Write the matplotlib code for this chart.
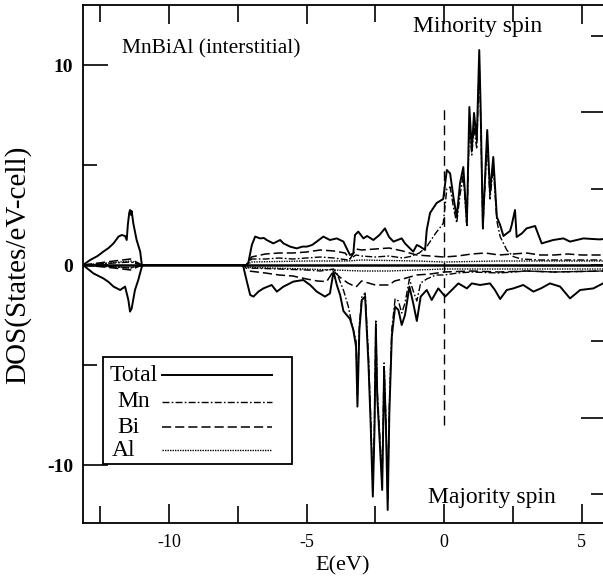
import matplotlib
matplotlib.use("Agg")
import matplotlib.pyplot as plt
from matplotlib.patches import Rectangle

# ── Data ────────────────────────────────────────────────────
e_tot_up = [-13.13, -12.87, -12.6, -12.39, -12.2, -12.02, -11.84, -11.72, -11.6, -11.54,
            -11.5, -11.45, -11.42, -11.38, -11.36, -11.3, -11.18, -11.05, -10.99, -7.2,
            -7.12, -6.99, -6.87, -6.69, -6.55, -6.45, -6.21, -5.96, -5.84, -5.6,
            -5.36, -5.15, -4.99, -4.8, -4.63, -4.39, -4.15, -3.9, -3.66, -3.54,
            -3.42, -3.3, -3.24, -3.12, -2.93, -2.8, -2.57, -2.35, -2.15, -2.0,
            -1.84, -1.54, -1.42, -1.24, -1.12, -0.99, -0.87, -0.69, -0.63, -0.51,
            -0.27, -0.03, 0.1, 0.22, 0.34, 0.46, 0.58, 0.7, 0.83, 0.92,
            1.01, 1.09, 1.19, 1.28, 1.33, 1.41, 1.57, 1.67, 1.79, 1.92,
            2.04, 2.16, 2.28, 2.4, 2.46, 2.58, 2.64, 2.83, 3.0, 3.31,
            3.55, 3.97, 4.34, 4.58, 5.07, 5.4, 5.67, 5.78]
dos_tot_up = [0.0, 0.25, 0.45, 0.67, 0.85, 1.08, 1.42, 1.5, 1.45, 1.25,
              2.0, 2.6, 2.75, 2.5, 2.7, 2.08, 1.25, 0.67, 0.0, 0.0,
              0.1, 1.0, 1.42, 1.33, 1.35, 1.25, 1.08, 1.25, 1.08, 0.92,
              0.83, 0.92, 0.92, 1.0, 1.17, 1.42, 1.25, 1.33, 1.17, 0.83,
              0.5, 0.58, 1.5, 1.67, 1.33, 1.45, 1.25, 1.5, 1.83, 1.4,
              1.17, 1.33, 1.08, 0.83, 0.67, 1.0, 0.92, 0.75, 1.75, 2.6,
              3.1, 3.3, 4.75, 4.58, 3.4, 2.4, 4.08, 4.9, 2.08, 7.9,
              5.75, 7.6, 6.25, 10.75, 7.9, 1.9, 6.75, 3.6, 5.4, 2.4,
              2.0, 1.45, 1.58, 1.7, 2.0, 2.75, 1.4, 1.58, 1.83, 1.95,
              1.08, 1.25, 1.33, 1.17, 1.33, 1.3, 1.28, 1.3]

e_tot_dn = [-13.13, -12.75, -12.39, -12.2, -12.02, -11.78, -11.6, -11.48, -11.42, -11.36,
            -11.24, -11.12, -10.99, -10.95, -7.35, -7.3, -7.17, -7.05, -6.93, -6.75,
            -6.57, -6.27, -6.08, -5.84, -5.48, -5.12, -4.87, -4.63, -4.33, -4.15,
            -4.02, -3.9, -3.78, -3.66, -3.42, -3.3, -3.2, -3.15, -3.08, -2.99,
            -2.87, -2.75, -2.67, -2.59, -2.53, -2.48, -2.43, -2.33, -2.25, -2.18,
            -2.11, -2.05, -1.99, -1.9, -1.78, -1.66, -1.54, -1.42, -1.26, -1.12,
            -0.99, -0.85, -0.63, -0.45, -0.21, 0.04, 0.34, 0.52, 0.83, 1.01,
            1.31, 1.67, 1.85, 2.04, 2.28, 2.52, 2.88, 3.25, 3.55, 3.85,
            4.22, 4.58, 4.95, 5.43, 5.78]
dos_tot_dn = [0.0, -0.42, -0.67, -0.85, -1.08, -1.25, -1.08, -1.75, -2.33, -2.17,
              -1.25, -0.75, -0.08, 0.0, 0.0, -0.08, -0.83, -1.5, -1.58, -1.33,
              -1.17, -1.0, -1.33, -1.08, -0.83, -0.75, -1.0, -1.33, -1.58, -1.42,
              -0.33, -1.0, -1.5, -2.3, -2.7, -3.25, -4.08, -7.08, -3.25, -1.75,
              -1.58, -4.92, -7.92, -11.58, -8.25, -3.08, -6.58, -9.08, -11.25, -5.25,
              -8.25, -12.25, -7.42, -3.58, -2.08, -2.25, -3.0, -2.5, -1.08, -1.92,
              -2.8, -1.58, -1.25, -1.75, -1.17, -1.58, -1.17, -0.92, -1.17, -0.92,
              -1.0, -0.92, -1.25, -1.7, -1.25, -1.17, -1.0, -1.33, -1.15, -0.92,
              -1.08, -1.67, -1.25, -1.17, -0.92]

e_mn_up = [-13.13, -12.0, -11.4, -10.99, -7.2, -7.0, -6.5, -6.0, -5.5, -5.0,
           -4.5, -4.0, -3.5, -3.2, -3.0, -2.5, -2.0, -1.5, -1.24, -0.9,
           -0.63, -0.3, -0.03, 0.1, 0.22, 0.34, 0.46, 0.58, 0.7, 0.83,
           0.92, 1.01, 1.09, 1.19, 1.28, 1.33, 1.41, 1.57, 1.67, 1.79,
           1.92, 2.04, 2.28, 2.52, 2.8, 3.5, 4.5, 5.78]
dos_mn_up = [0.0, 0.1, 0.15, 0.0, 0.0, 0.3, 0.3, 0.35, 0.3, 0.35,
             0.4, 0.35, 0.25, 0.5, 0.45, 0.4, 0.45, 0.35, 0.42, 0.6,
             0.92, 1.6, 2.08, 3.8, 3.9, 2.9, 2.1, 3.5, 4.5, 1.9,
             7.0, 5.5, 6.9, 5.8, 10.2, 7.4, 1.8, 6.2, 3.3, 4.9,
             2.2, 1.42, 0.75, 0.42, 0.3, 0.25, 0.25, 0.25]

e_bi_up = [-13.13, -12.0, -11.4, -10.99, -7.2, -7.0, -6.5, -6.0, -5.5, -5.0,
           -4.5, -4.0, -3.6, -3.42, -3.2, -3.0, -2.5, -2.0, -1.5, -1.0,
           -0.5, 0.0, 0.5, 1.0, 1.5, 2.0, 2.5, 3.0, 3.5, 4.0,
           4.5, 5.0, 5.78]
dos_bi_up = [0.0, 0.2, 0.3, 0.0, 0.0, 0.4, 0.55, 0.6, 0.6, 0.65,
             0.75, 0.7, 0.6, 0.3, 0.8, 0.75, 0.8, 0.85, 0.7, 0.5,
             0.45, 0.4, 0.45, 0.55, 0.6, 0.5, 0.55, 0.6, 0.5, 0.5,
             0.55, 0.5, 0.5]

e_al_up = [-13.13, -12.0, -11.4, -10.99, -7.2, -7.0, -5.0, -3.5, -3.0, -1.0,
           0.0, 2.0, 5.78]
dos_al_up = [0.0, 0.12, 0.2, 0.0, 0.0, 0.15, 0.2, 0.2, 0.25, 0.2,
             0.15, 0.2, 0.2]

e_mn_dn = [-13.13, -12.0, -11.4, -10.99, -7.3, -7.1, -6.0, -5.0, -4.5, -4.02,
           -3.9, -3.66, -3.48, -3.36, -3.2, -3.15, -3.08, -2.99, -2.87, -2.75,
           -2.67, -2.59, -2.53, -2.48, -2.43, -2.33, -2.25, -2.18, -2.11, -2.05,
           -1.99, -1.9, -1.78, -1.66, -1.54, -1.42, -1.26, -1.12, -0.99, -0.85,
           -0.63, -0.3, 0.0, 0.5, 1.0, 2.0, 3.0, 4.0, 5.78]
dos_mn_dn = [0.0, -0.1, -0.15, 0.0, 0.0, -0.15, -0.2, -0.25, -0.3, -0.2,
             -0.42, -1.25, -2.08, -2.9, -3.8, -6.5, -3.0, -1.6, -1.4, -4.5,
             -7.5, -11.0, -7.8, -2.8, -6.2, -8.7, -10.8, -4.9, -7.9, -11.7,
             -7.0, -3.2, -1.7, -1.8, -2.4, -1.9, -0.7, -1.3, -1.8, -0.9,
             -0.7, -0.5, -0.5, -0.4, -0.35, -0.4, -0.3, -0.35, -0.3]

e_bi_dn = [-13.13, -12.0, -11.4, -10.99, -7.3, -7.1, -6.5, -6.0, -5.5, -5.0,
           -4.6, -4.27, -4.02, -3.8, -3.5, -3.2, -3.0, -2.5, -2.0, -1.8,
           -1.5, -1.0, -0.5, 0.0, 1.0, 2.0, 3.0, 4.0, 5.78]
dos_bi_dn = [0.0, -0.15, -0.25, 0.0, 0.0, -0.3, -0.4, -0.5, -0.55, -0.7,
             -0.8, -0.83, -0.3, -0.6, -0.9, -1.1, -0.8, -1.0, -1.0, -0.8,
             -0.7, -0.5, -0.45, -0.35, -0.3, -0.35, -0.3, -0.35, -0.3]

e_al_dn = [-13.13, -12.0, -11.4, -10.99, -7.3, -7.1, -5.0, -4.0, -3.0, -2.0,
           -1.0, 0.0, 2.0, 5.78]
dos_al_dn = [0.0, -0.1, -0.15, 0.0, 0.0, -0.12, -0.2, -0.25, -0.3, -0.3,
             -0.25, -0.2, -0.2, -0.2]

fermi_e = 0.0
fermi_span = (-8.0, 8.0)

x_major = [-10, -5, 0, 5]
x_labels = ["-10", "-5", "0", "5"]
x_minor = [-12.5, -7.5, -2.5, 2.5]
y_major = [-10, 0, 10]
y_labels = ["-10", "0", "10"]
y_minor = [-5, 5]
right_major = [-7.63, 7.63]
right_minor = [-11.44, -3.81, 0, 3.81, 11.44]

legend_labels = ["Total", "Mn", "Bi", "Al"]

# ── Style ────────────────────────────────────────────────────
plt.rcParams.update({"font.family": "Liberation Serif"})
MN_DASH = (0, (5, 1.6, 1.2, 1.6))
BI_DASH = (0, (6, 2.6))
AL_DASH = (0, (1.0, 0.8))
styles = {"Total": dict(lw=1.4, ls="-"),
          "Mn": dict(lw=1.0, ls=MN_DASH),
          "Bi": dict(lw=1.1, ls=BI_DASH),
          "Al": dict(lw=1.0, ls=AL_DASH)}

fig = plt.figure(figsize=(6.03, 5.80), dpi=100)
ax = fig.add_axes([83 / 603, 57 / 580, 520 / 603, 518 / 580])

# ── Partial DOS ──────────────────────────────────────────────
ax.plot(e_al_up, dos_al_up, color="k", **styles["Al"])
ax.plot(e_al_dn, dos_al_dn, color="k", **styles["Al"])
ax.plot(e_bi_up, dos_bi_up, color="k", **styles["Bi"])
ax.plot(e_bi_dn, dos_bi_dn, color="k", **styles["Bi"])
ax.plot(e_mn_up, dos_mn_up, color="k", **styles["Mn"])
ax.plot(e_mn_dn, dos_mn_dn, color="k", **styles["Mn"])

# ── Total DOS ────────────────────────────────────────────────
ax.plot(e_tot_up, dos_tot_up, color="k", **styles["Total"])
ax.plot(e_tot_dn, dos_tot_dn, color="k", **styles["Total"])

ax.axhline(0, color="k", lw=1.8)
ax.vlines(fermi_e, fermi_span[0], fermi_span[1], colors="k", lw=1.0,
          linestyles=(0, (7, 4)))

ax.set_xlim(-13.13, 5.78)
ax.set_ylim(-12.9, 13.0)

# ── Ticks ────────────────────────────────────────────────────
ax.set_xticks(x_major)
ax.set_xticks(x_minor, minor=True)
ax.set_xticklabels(x_labels, fontsize=13)
ax.set_yticks(y_major)
ax.set_yticklabels(y_labels, fontsize=14, fontweight="bold")
ax.set_yticks(y_minor, minor=True)
ax.tick_params(axis="x", which="both", direction="in", top=True, pad=8, width=1.2)
ax.tick_params(axis="x", which="major", length=14)
ax.tick_params(axis="x", which="minor", length=12)
ax.tick_params(axis="y", which="major", direction="in", length=18, width=1.2, pad=7)
ax.tick_params(axis="y", which="minor", direction="in", length=10, width=1.2)
ax.yaxis.get_major_ticks()[1].tick1line.set_visible(False)
for s in ["left", "bottom", "top"]:
    ax.spines[s].set_linewidth(1.3)
ax.spines["right"].set_visible(False)

ax2 = ax.twinx()
ax2.set_ylim(ax.get_ylim())
ax2.set_yticks(right_major)
ax2.set_yticks(right_minor, minor=True)
ax2.set_yticklabels([])
ax2.tick_params(axis="y", which="major", direction="in", length=16, width=1.2)
ax2.tick_params(axis="y", which="minor", direction="in", length=9, width=1.2)
for s in ax2.spines.values():
    s.set_visible(False)

# ── Annotations ──────────────────────────────────────────────
ax.text(-11.71, 10.6, "MnBiAl (interstitial)", fontsize=15.5, va="baseline")
ax.text(-1.13, 11.65, "Minority spin", fontsize=17, va="baseline")
ax.text(-0.58, -11.9, "Majority spin", fontsize=17, va="baseline")

fig.text(343 / 603, 1 - 566 / 580, "E(eV)", fontsize=16, ha="center", va="center")
fig.text(18 / 603, 1 - 265 / 580, "DOS(States/eV-cell)", fontsize=21,
         rotation=90, ha="center", va="center")

# ── Legend box: label on the left, line sample on the right ─
box = Rectangle((0.0385, 0.1139), 0.3635, 0.2066, transform=ax.transAxes,
                fill=True, facecolor="white", edgecolor="k", lw=1.3, zorder=5)
ax.add_patch(box)
text_x = [0.0519, 0.0654, 0.0654, 0.0558]
row_y = [0.2857, 0.2336, 0.1853, 0.1409]
for lab, tx, ry in zip(legend_labels, text_x, row_y):
    ax.text(tx, ry, lab, transform=ax.transAxes, fontsize=17, va="center",
            ha="left", zorder=6)
    ax.plot([0.1519, 0.3635], [ry, ry], transform=ax.transAxes, color="k",
            zorder=6, **styles[lab])

fig.savefig("out.png", dpi=100)
